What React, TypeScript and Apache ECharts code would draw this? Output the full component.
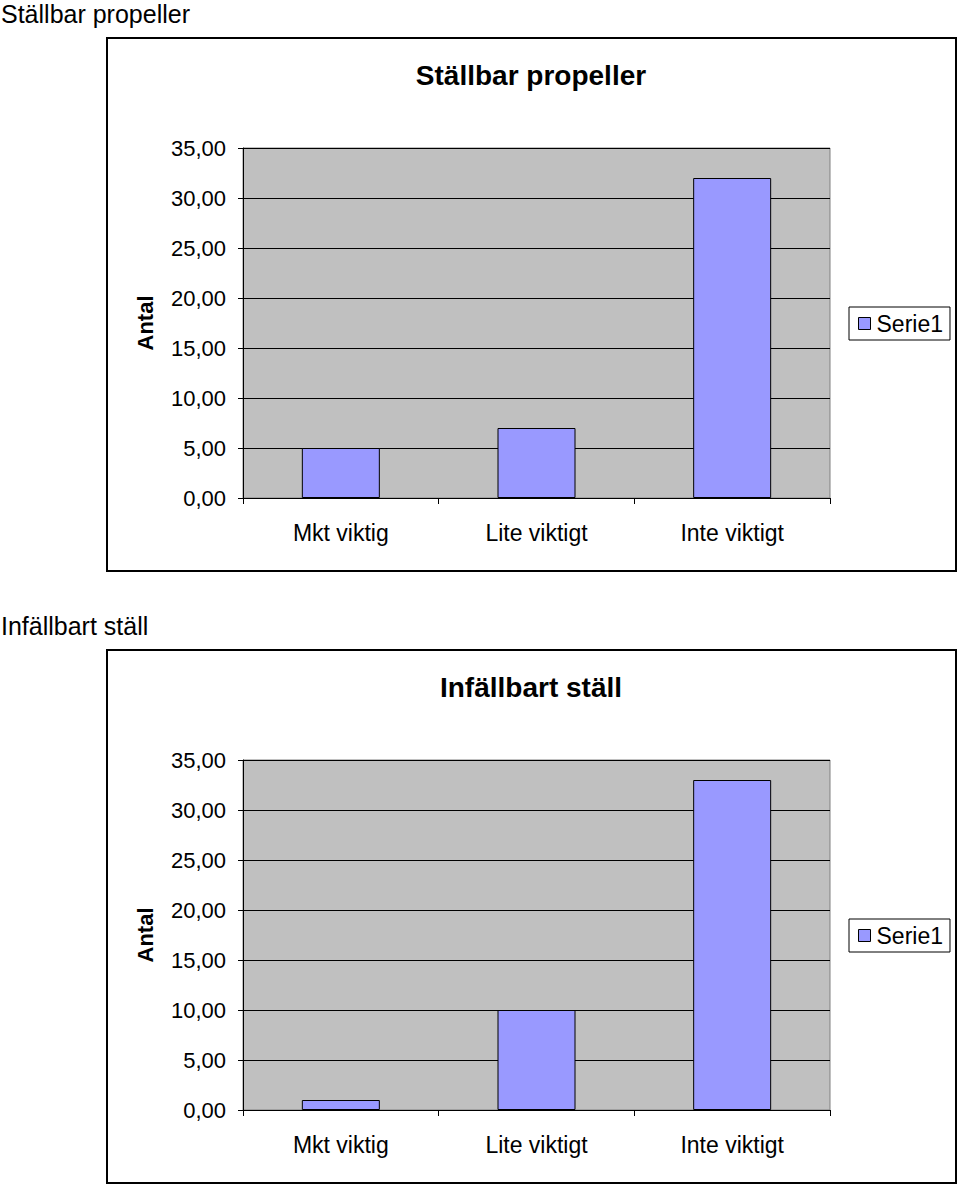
import React, { useEffect, useRef } from "react";
import * as echarts from "echarts";

const categories = ["Mkt viktig", "Lite viktigt", "Inte viktigt"];
const stallbarValues = [5, 7, 32];
const infallbartValues = [1, 10, 33];
const chartTitles = ["Ställbar propeller", "Infällbart ställ"];
const seriesName = "Serie1";
const axisName = "Antal";

const FONT = "'Liberation Sans', Arial, sans-serif";

export default function App() {
  const ref = useRef<HTMLDivElement>(null);
  useEffect(() => {
    const chart = echarts.init(ref.current!, null, { renderer: "svg" });
    const tops = [148, 760];
    const boxTops = [38, 650];
    const outerLabelY = [14, 626];
    const datasets = [stallbarValues, infallbartValues];
    const fmt = (v: number) => v.toFixed(2).replace(".", ",");

    const grids = tops.map((t) => ({
      left: 243,
      top: t,
      width: 587,
      height: 350,
      show: true,
      backgroundColor: "#C0C0C0",
      borderColor: "#808080",
      borderWidth: 1,
      containLabel: false,
    }));

    const xAxes = tops.map((_, i) => ({
      type: "category",
      gridIndex: i,
      data: categories,
      boundaryGap: true,
      axisLine: { show: true, lineStyle: { color: "#000", width: 1 } },
      axisTick: { show: true, alignWithLabel: false, length: 6, lineStyle: { color: "#000" } },
      axisLabel: { color: "#000", fontSize: 23, fontFamily: FONT, margin: 23 },
      splitLine: { show: false },
    }));

    const yAxes = tops.map((_, i) => ({
      type: "value",
      gridIndex: i,
      min: 0,
      max: 35,
      interval: 5,
      name: axisName,
      nameLocation: "middle",
      nameRotate: 90,
      nameGap: 87,
      nameTextStyle: { color: "#000", fontSize: 22, fontWeight: "bold", fontFamily: FONT },
      axisLine: { show: true, lineStyle: { color: "#000", width: 1 } },
      axisTick: { show: true, length: 5, lineStyle: { color: "#000" } },
      axisLabel: { color: "#000", fontSize: 22, fontFamily: FONT, margin: 17, formatter: fmt },
      splitLine: { show: true, lineStyle: { color: "#000", width: 1 } },
    }));

    const series = datasets.map((d, i) => ({
      type: "bar",
      name: seriesName,
      xAxisIndex: i,
      yAxisIndex: i,
      data: d,
      barWidth: 78,
      itemStyle: { color: "#9999FF", borderColor: "#000", borderWidth: 1 },
    }));

    const legends = tops.map((t, i) => ({
      show: true,
      left: 849,
      top: t + 159,
      orient: "horizontal",
      data: [{ name: seriesName, icon: "rect" }],
      borderColor: "#000",
      borderWidth: 1,
      backgroundColor: "#fff",
      padding: [5, 7, 5, 9],
      itemWidth: 12,
      itemHeight: 12,
      itemGap: 5,
      itemStyle: { borderColor: "#000", borderWidth: 1 },
      textStyle: { color: "#000", fontSize: 23, fontFamily: FONT, padding: [0, 0, 0, 1] },
      selectedMode: false,
    }));

    const graphic: any[] = [];
    boxTops.forEach((bt, i) => {
      graphic.push({
        type: "rect",
        shape: { x: 107, y: bt, width: 849, height: 533 },
        style: { fill: "none", stroke: "#000", lineWidth: 2 },
        z: 0,
        silent: true,
      });
      graphic.push({
        type: "text",
        x: 531,
        y: bt + 37,
        style: {
          text: chartTitles[i],
          fill: "#000",
          font: `bold 28px ${FONT}`,
          textAlign: "center",
          textVerticalAlign: "middle",
        },
      });
      graphic.push({
        type: "text",
        x: 1,
        y: outerLabelY[i],
        style: {
          text: chartTitles[i],
          fill: "#000",
          font: `25px ${FONT}`,
          textAlign: "left",
          textVerticalAlign: "middle",
        },
      });
    });

    chart.setOption({
      animation: false,
      backgroundColor: "#fff",
      grid: grids,
      xAxis: xAxes,
      yAxis: yAxes,
      series,
      legend: legends,
      graphic,
    } as any);
    return () => chart.dispose();
  }, []);
  return (
    <div
      ref={ref}
      style={{ position: "absolute", left: 0, top: 0, width: 960, height: 1186 }}
    />
  );
}
